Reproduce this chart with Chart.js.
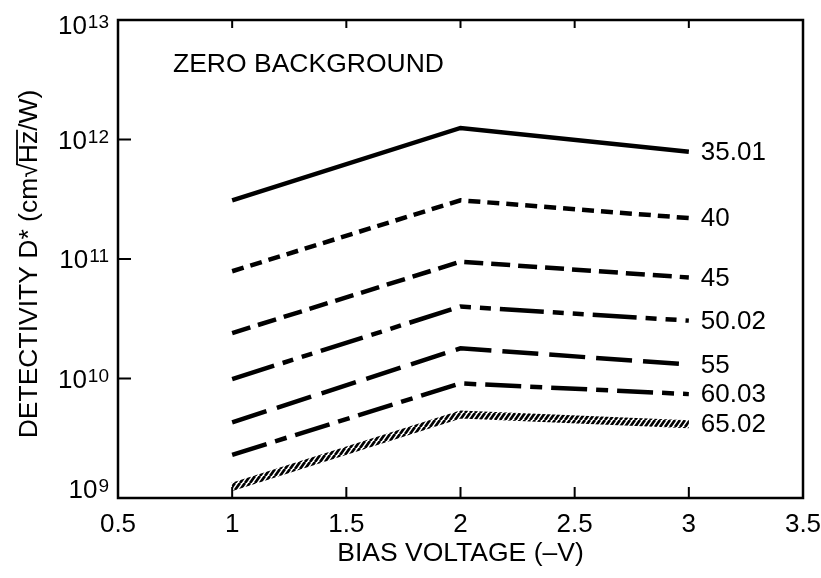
<!DOCTYPE html>
<html>
<head>
<meta charset="utf-8">
<script src="https://cdn.jsdelivr.net/npm/chart.js@4.4.1/dist/chart.umd.min.js"></script>
<style>
  html, body { margin: 0; padding: 0; background: #fff; }
  canvas { display: block; }
</style>
</head>
<body>
<canvas id="detChart" width="821" height="578"></canvas>
<script>
// bias voltage (-V) at which D* was evaluated
const biasVoltage = [1, 2, 3];

// curve labels, printed at the right end of each curve
const curveLabels = ["35.01", "40", "45", "50.02", "55", "60.03", "65.02"];

// detectivity D* (cm sqrt(Hz)/W), one array per curve
const d3501 = [3.1e11, 1.25e12, 7.9e11];
const d40   = [7.9e10, 3.1e11, 2.2e11];
const d45   = [2.4e10, 9.5e10, 7.0e10];
const d5002 = [9.9e9, 4.0e10, 3.05e10];
const d55   = [4.3e9, 1.79e10, 1.31e10];
const d6003 = [2.3e9, 9.1e9, 7.4e9];
const d6502 = [1.24e9, 5.0e9, 4.15e9];

// axis ticks
const xTicks = [0.5, 1, 1.5, 2, 2.5, 3, 3.5];
const yExponents = [9, 10, 11, 12, 13];

const FONT = '"Liberation Sans", Arial, Helvetica, sans-serif';

// hatched stroke for the last curve
function hatch() {
    const c = document.createElement("canvas");
    c.width = 5; c.height = 7;
    const g = c.getContext("2d");
    g.strokeStyle = "#000";
    g.lineWidth = 2.7;
    g.beginPath();
    g.moveTo(0, 7); g.lineTo(5, 0);
    g.moveTo(-5, 7); g.lineTo(0, 0);
    g.moveTo(5, 7); g.lineTo(10, 0);
    g.stroke();
    return g.createPattern(c, "repeat");
}

const series = [d3501, d40, d45, d5002, d55, d6003, d6502];
const dashes = [[], [12, 7], [19, 8], [44, 9, 11, 9, 11, 9], [36, 11], [36, 9, 12, 9], []];

const datasets = series.map((vals, i) => ({
    label: curveLabels[i],
    data: vals.map((v, j) => ({ x: biasVoltage[j], y: v })),
    borderColor: i === 6 ? hatch() : "#000",
    borderWidth: i === 6 ? 8 : 4.5,
    borderDash: dashes[i],
    borderCapStyle: "butt",
    pointRadius: 0,
    tension: 0,
    fill: false
}));

const decorations = {
    id: "decorations",
    afterDraw(chart) {
        const { ctx, chartArea: a, scales: { x, y } } = chart;
        ctx.save();
        ctx.strokeStyle = "#000";
        ctx.fillStyle = "#000";

        // frame
        ctx.lineWidth = 2.5;
        ctx.strokeRect(a.left, a.top, a.right - a.left, a.bottom - a.top);

        // inward tick marks
        ctx.lineWidth = 2;
        ctx.beginPath();
        xTicks.slice(1, -1).forEach(v => {
            const px = x.getPixelForValue(v);
            ctx.moveTo(px, a.bottom); ctx.lineTo(px, a.bottom - 11);
            ctx.moveTo(px, a.top); ctx.lineTo(px, a.top + 8);
        });
        yExponents.slice(1, -1).forEach(e => {
            const py = y.getPixelForValue(Math.pow(10, e));
            ctx.moveTo(a.left, py); ctx.lineTo(a.left + 13, py);
        });
        ctx.stroke();

        // y tick labels as 10 with a raised exponent
        ctx.textAlign = "right";
        ctx.textBaseline = "alphabetic";
        yExponents.forEach(e => {
            let cy = y.getPixelForValue(Math.pow(10, e));
            cy = Math.min(Math.max(cy, a.top + 5), a.bottom - 9);
            const right = a.left - 9;
            ctx.font = "19px " + FONT;
            ctx.fillText(String(e), right, cy + 3);
            const ew = ctx.measureText(String(e)).width;
            ctx.font = "26px " + FONT;
            ctx.fillText("10", right - ew - 1, cy + 9);
        });

        // curve labels at the right end
        ctx.font = "26px " + FONT;
        ctx.textAlign = "left";
        ctx.textBaseline = "middle";
        chart.data.datasets.forEach((ds, i) => {
            const pts = chart.getDatasetMeta(i).data;
            const last = pts[pts.length - 1];
            ctx.fillText(ds.label, last.x + 12, last.y + 1);
        });

        // annotation
        ctx.textBaseline = "alphabetic";
        ctx.font = "26.5px " + FONT;
        ctx.fillText("ZERO BACKGROUND", a.left + 55, a.top + 52);

        // y axis title with an overline on Hz
        ctx.font = "26.5px " + FONT;
        ctx.translate(28, 264);
        ctx.rotate(-Math.PI / 2);
        const parts = ["DETECTIVITY D* (cm", "\u221A", "Hz", "/W)"];
        const widths = parts.map(p => ctx.measureText(p).width);
        const total = widths.reduce((s, w) => s + w, 0);
        let cx = -total / 2;
        const base = 9;
        const rootTop = ctx.measureText("\u221A").actualBoundingBoxAscent;
        parts.forEach((p, i) => {
            ctx.fillText(p, cx, base);
            if (p === "Hz") {
                ctx.lineWidth = 1.8;
                ctx.beginPath();
                ctx.moveTo(cx - 1, base - rootTop + 1);
                ctx.lineTo(cx + widths[i] + 1, base - rootTop + 1);
                ctx.stroke();
            }
            cx += widths[i];
        });
        ctx.restore();
    }
};

new Chart(document.getElementById("detChart"), {
    type: "line",
    data: { datasets: datasets },
    options: {
        responsive: false,
        animation: false,
        devicePixelRatio: 1,
        layout: { padding: { top: 20, right: 18, left: 0, bottom: 0 } },
        plugins: { legend: { display: false }, tooltip: { enabled: false } },
        scales: {
            x: {
                type: "linear",
                min: 0.5,
                max: 3.5,
                grid: { display: false },
                border: { display: false },
                ticks: {
                    stepSize: 0.5,
                    color: "#000",
                    padding: 3,
                    font: { family: FONT, size: 26 },
                    maxRotation: 0,
                    callback: v => String(v)
                },
                title: {
                    display: true,
                    text: "BIAS VOLTAGE (\u2013V)",
                    color: "#000",
                    font: { family: FONT, size: 26.5 },
                    padding: { top: 0, bottom: 8 }
                },
                afterFit(scale) {
                    scale.height = 80;
                    scale.paddingRight = 0;
                    scale.paddingLeft = 0;
                }
            },
            y: {
                type: "logarithmic",
                min: 1e9,
                max: 1e13,
                grid: { display: false },
                border: { display: false },
                ticks: { display: false },
                afterFit(scale) { scale.width = 118; }
            }
        }
    },
    plugins: [decorations]
});
</script>
</body>
</html>
